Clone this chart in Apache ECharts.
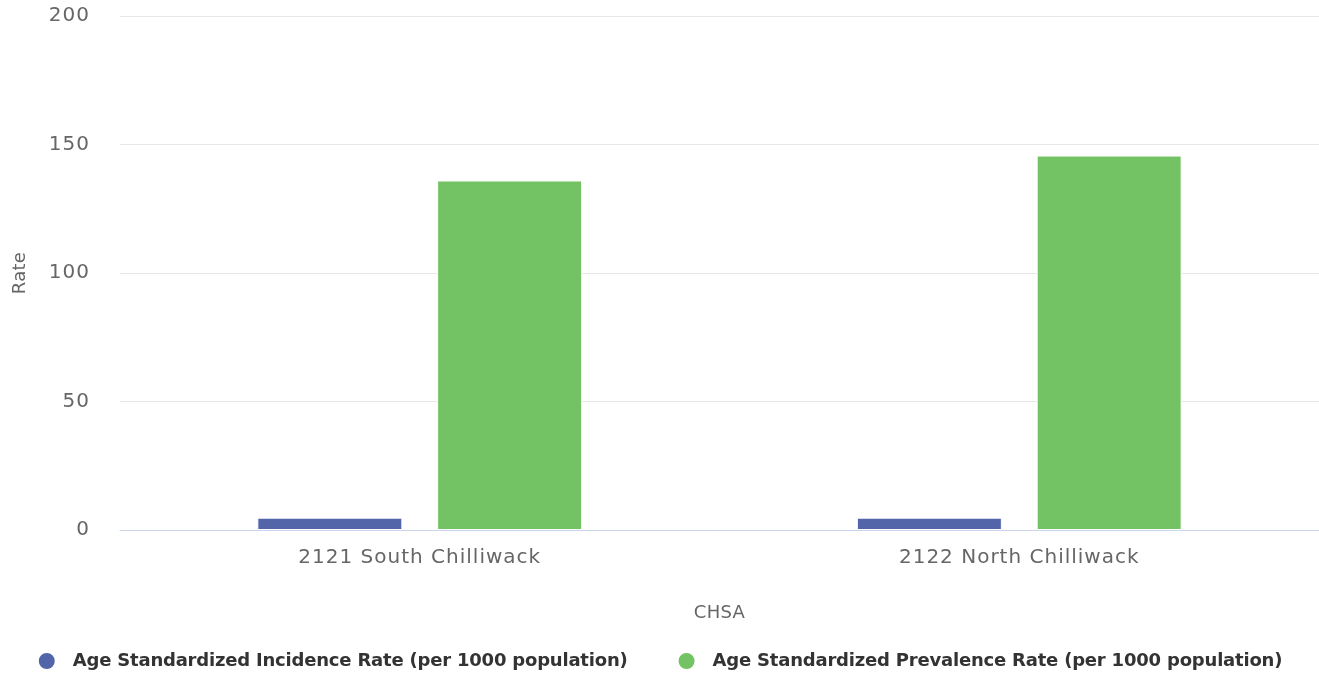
<!DOCTYPE html>
<html><head><meta charset="utf-8">
<script src="https://cdn.jsdelivr.net/npm/echarts@6/dist/echarts.min.js"></script>
<style>html,body{margin:0;padding:0;background:#fff}#c{width:1319px;height:677px}</style>
</head><body><div id="c"></div>
<script>
const categories = ["2121 South Chilliwack", "2122 North Chilliwack"];
const incidence = [4.8, 4.8];
const prevalence = [136, 145.7];
const yTicks = [0, 50, 100, 150, 200];
const seriesNames = ["Age Standardized Incidence Rate (per 1000 population)", "Age Standardized Prevalence Rate (per 1000 population)"];

// Letter spacing tuned to the reference's text widths
(function () {
  const P = CanvasRenderingContext2D.prototype;
  const d = Object.getOwnPropertyDescriptor(P, 'font');
  if (d && d.set && 'letterSpacing' in P) {
    Object.defineProperty(P, 'font', {
      configurable: true,
      get: function () { return d.get.call(this); },
      set: function (v) {
        d.set.call(this, v);
        const s = String(v);
        const m = s.match(/(\d+(?:\.\d+)?)px/);
        const size = m ? parseFloat(m[1]) : 12;
        let ls = '0px';
        if (/bold/.test(s)) ls = '-0.2px';
        else if (size >= 20) ls = '1px';
        else ls = '0.3px';
        this.letterSpacing = ls;
      }
    });
  }
})();

const font = "DejaVu Sans";
const chart = echarts.init(document.getElementById('c'), null, {renderer: 'canvas'});
chart.setOption({
  animation: false,
  textStyle: {fontFamily: font},
  grid: {left: 120, right: 0, top: 16, bottom: 147},
  legend: {
    top: 646, left: 'center', itemGap: 49, itemWidth: 18, itemHeight: 18, icon: 'circle',
    textStyle: {fontFamily: font, fontSize: 18, color: '#333', fontWeight: 'bold', padding: [0, 0, 0, 12]},
    data: seriesNames
  },
  xAxis: {
    type: 'category', data: categories,
    name: 'CHSA', nameLocation: 'middle', nameGap: 74,
    nameTextStyle: {fontFamily: font, fontSize: 18, color: '#666'},
    axisLine: {lineStyle: {color: '#ccd6eb'}},
    axisTick: {show: false},
    axisLabel: {fontFamily: font, fontSize: 20, color: '#666', margin: 17}
  },
  yAxis: {
    type: 'value', min: yTicks[0], max: yTicks[yTicks.length - 1], interval: 50,
    name: 'Rate', nameLocation: 'middle', nameGap: 91,
    nameTextStyle: {fontFamily: font, fontSize: 18, color: '#666'},
    axisLine: {show: false}, axisTick: {show: false},
    splitLine: {lineStyle: {color: '#e6e6e6'}},
    axisLabel: {fontFamily: font, fontSize: 20, color: '#666', margin: 30}
  },
  series: [
    {name: seriesNames[0], type: 'bar', data: incidence, barWidth: 145, barGap: '24%',
     itemStyle: {color: '#5165a8', borderColor: '#fff', borderWidth: 1}},
    {name: seriesNames[1], type: 'bar', data: prevalence, barWidth: 145,
     itemStyle: {color: '#73c263', borderColor: '#fff', borderWidth: 1}}
  ]
});
</script></body></html>
